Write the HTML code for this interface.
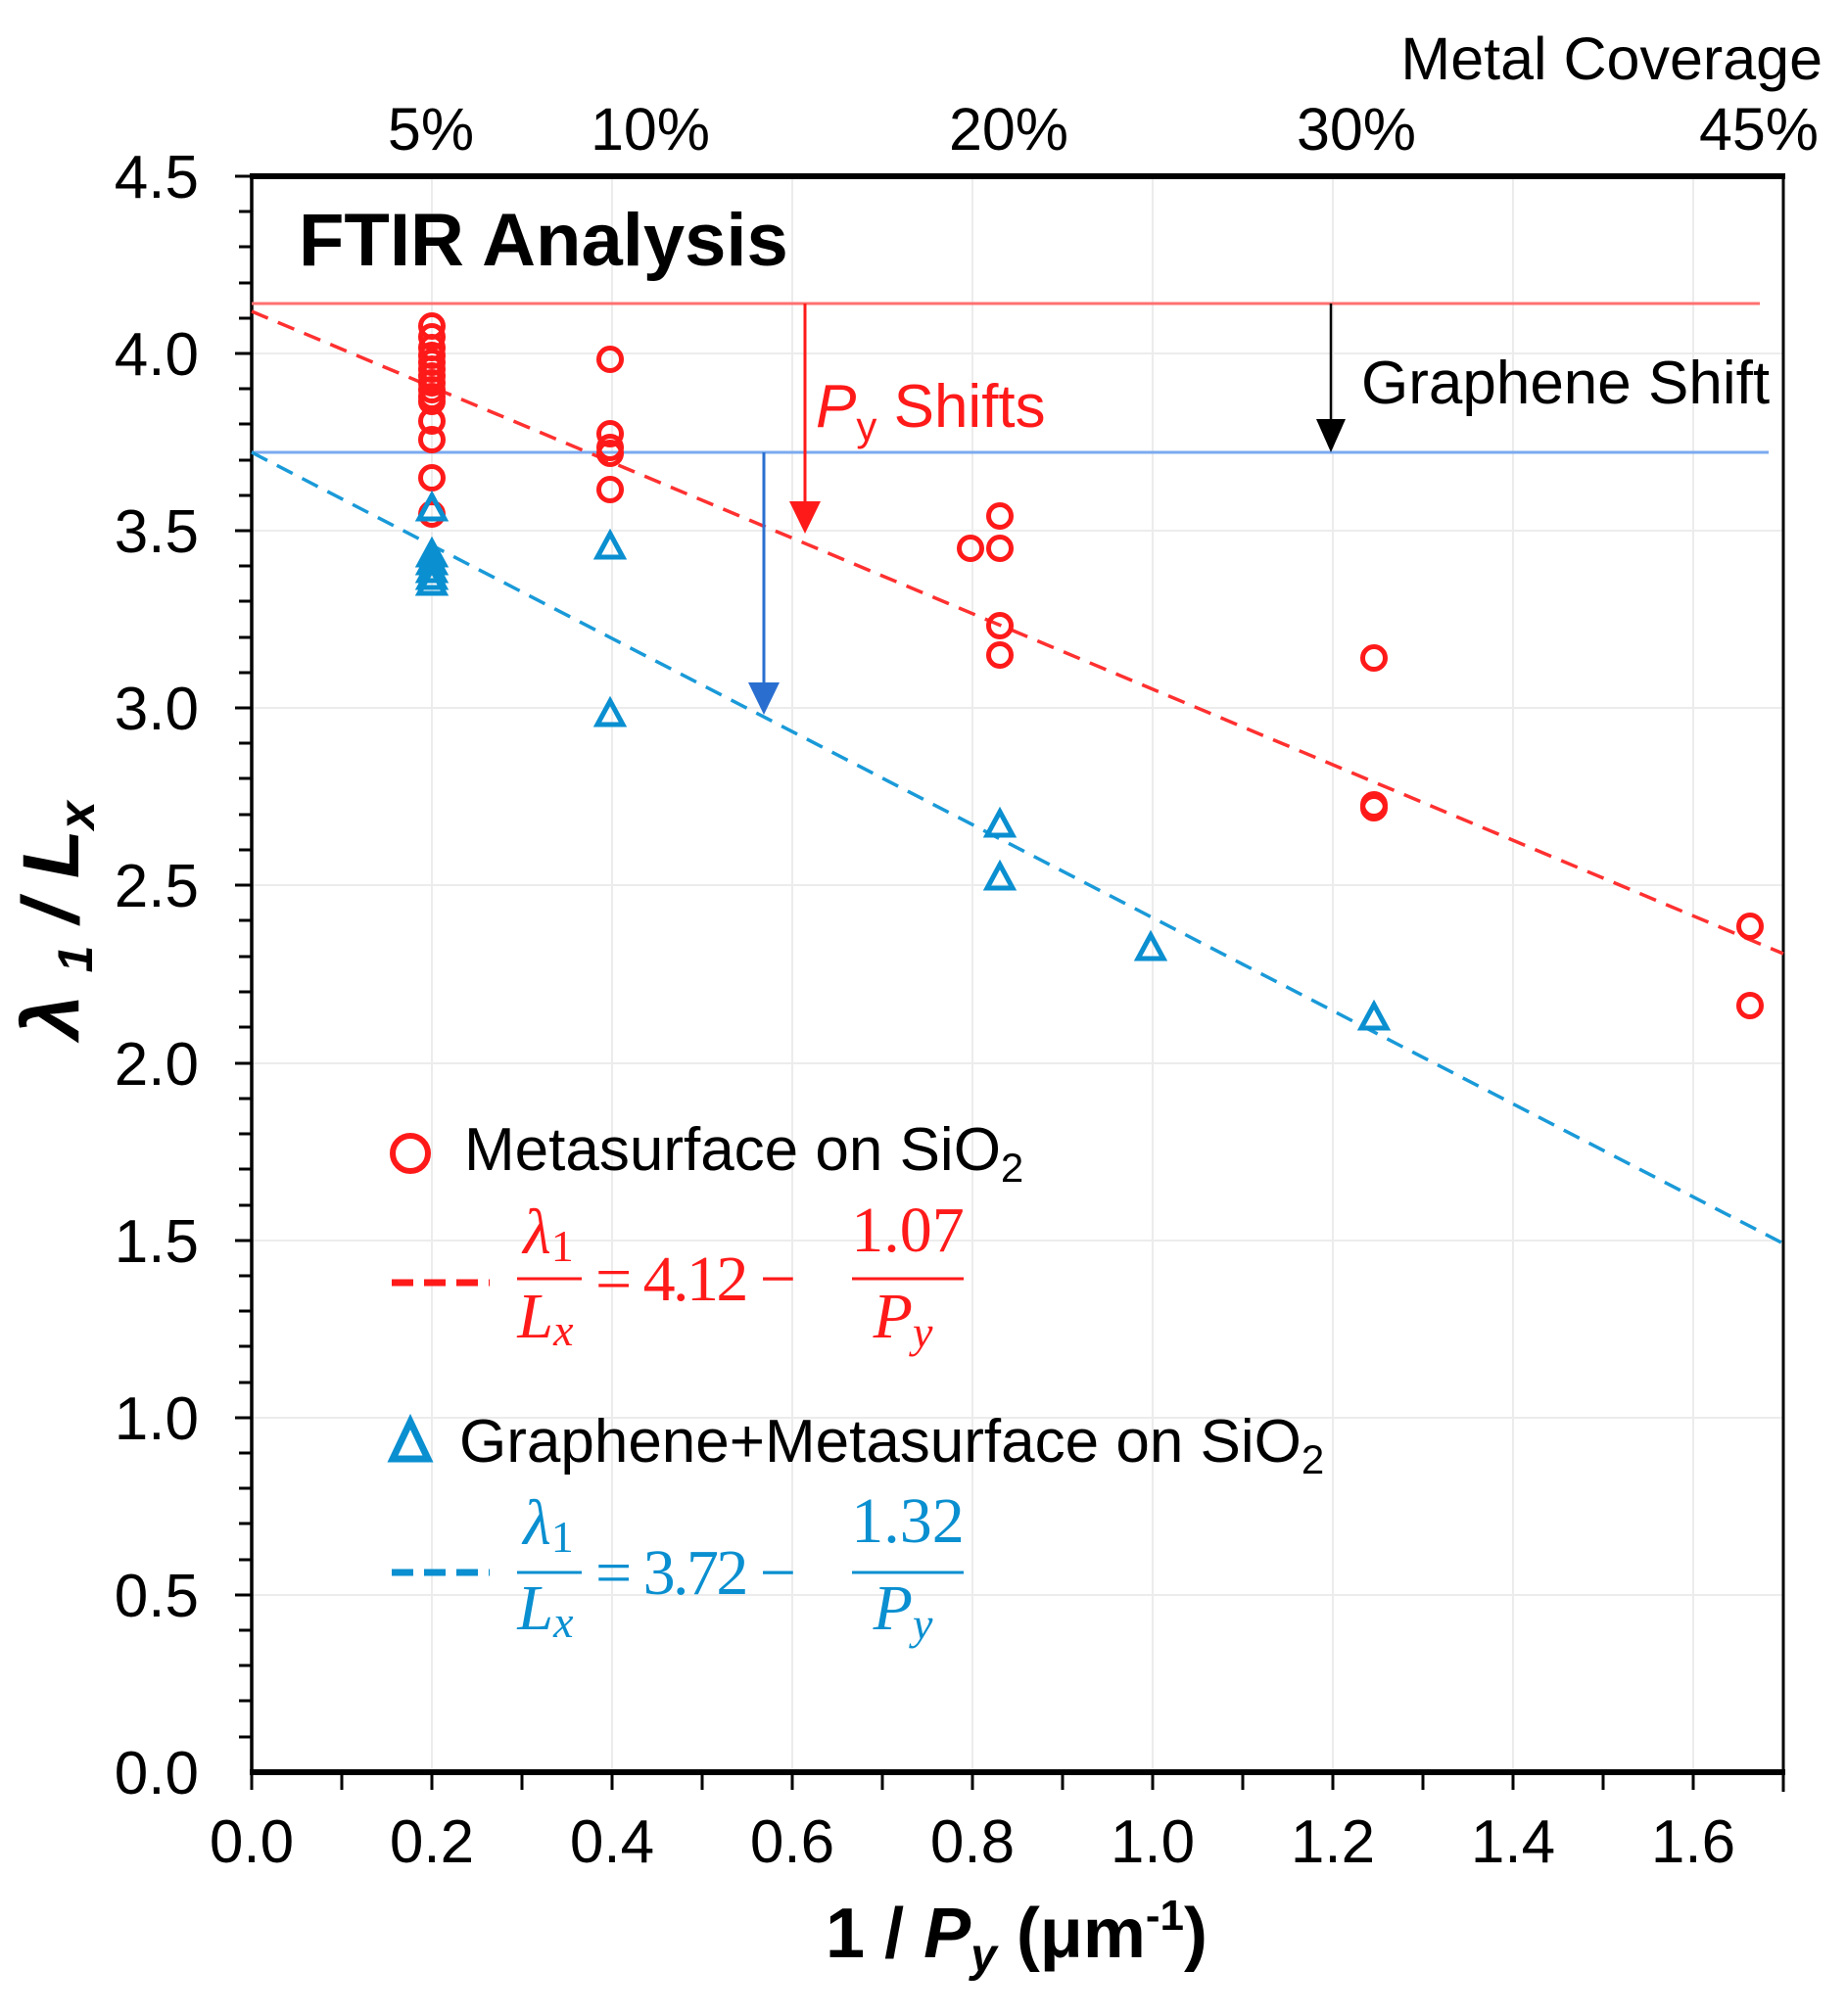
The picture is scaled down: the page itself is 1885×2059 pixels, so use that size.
<!DOCTYPE html>
<html><head><meta charset="utf-8"><style>html,body{margin:0;padding:0;background:#fff}svg{display:block}</style></head>
<body>
<svg xmlns="http://www.w3.org/2000/svg" width="1885" height="2059" viewBox="0 0 1885 2059" font-family="Liberation Sans, Arial, sans-serif">
<defs>
<g id="c"><circle r="11.5" fill="none" stroke="#ff1a1a" stroke-width="5"/></g>
<g id="t"><path d="M0,-14 L13,10 L-13,10 Z" fill="none" stroke="#0a8fd0" stroke-width="5" stroke-linejoin="miter"/></g>
</defs>
<!-- grid -->
<g stroke="#ececec" stroke-width="2">
<line x1="441" y1="182" x2="441" y2="1810"/><line x1="625" y1="182" x2="625" y2="1810"/><line x1="809" y1="182" x2="809" y2="1810"/><line x1="993" y1="182" x2="993" y2="1810"/><line x1="1177" y1="182" x2="1177" y2="1810"/><line x1="1361" y1="182" x2="1361" y2="1810"/><line x1="1545" y1="182" x2="1545" y2="1810"/><line x1="1729" y1="182" x2="1729" y2="1810"/>
<line x1="257" y1="361" x2="1821" y2="361"/><line x1="257" y1="542" x2="1821" y2="542"/><line x1="257" y1="723" x2="1821" y2="723"/><line x1="257" y1="904" x2="1821" y2="904"/><line x1="257" y1="1086" x2="1821" y2="1086"/><line x1="257" y1="1267" x2="1821" y2="1267"/><line x1="257" y1="1448" x2="1821" y2="1448"/><line x1="257" y1="1629" x2="1821" y2="1629"/>
</g>
<!-- axes frame -->
<line x1="255" y1="180" x2="1823" y2="180" stroke="#000" stroke-width="6"/>
<line x1="255" y1="1810" x2="1823" y2="1810" stroke="#000" stroke-width="6"/>
<line x1="257" y1="178" x2="257" y2="1812" stroke="#000" stroke-width="3.5"/>
<line x1="1821" y1="178" x2="1821" y2="1830" stroke="#000" stroke-width="3"/>
<!-- y ticks -->
<g stroke="#000" stroke-width="3">
<line x1="240" y1="180" x2="257" y2="180"/><line x1="244" y1="216" x2="257" y2="216"/><line x1="244" y1="252" x2="257" y2="252"/><line x1="244" y1="289" x2="257" y2="289"/><line x1="244" y1="325" x2="257" y2="325"/>
<line x1="240" y1="361" x2="257" y2="361"/><line x1="244" y1="397" x2="257" y2="397"/><line x1="244" y1="433" x2="257" y2="433"/><line x1="244" y1="470" x2="257" y2="470"/><line x1="244" y1="506" x2="257" y2="506"/>
<line x1="240" y1="542" x2="257" y2="542"/><line x1="244" y1="578" x2="257" y2="578"/><line x1="244" y1="614" x2="257" y2="614"/><line x1="244" y1="651" x2="257" y2="651"/><line x1="244" y1="687" x2="257" y2="687"/>
<line x1="240" y1="723" x2="257" y2="723"/><line x1="244" y1="759" x2="257" y2="759"/><line x1="244" y1="795" x2="257" y2="795"/><line x1="244" y1="832" x2="257" y2="832"/><line x1="244" y1="868" x2="257" y2="868"/>
<line x1="240" y1="904" x2="257" y2="904"/><line x1="244" y1="940" x2="257" y2="940"/><line x1="244" y1="977" x2="257" y2="977"/><line x1="244" y1="1013" x2="257" y2="1013"/><line x1="244" y1="1049" x2="257" y2="1049"/>
<line x1="240" y1="1086" x2="257" y2="1086"/><line x1="244" y1="1122" x2="257" y2="1122"/><line x1="244" y1="1158" x2="257" y2="1158"/><line x1="244" y1="1194" x2="257" y2="1194"/><line x1="244" y1="1231" x2="257" y2="1231"/>
<line x1="240" y1="1267" x2="257" y2="1267"/><line x1="244" y1="1303" x2="257" y2="1303"/><line x1="244" y1="1339" x2="257" y2="1339"/><line x1="244" y1="1375" x2="257" y2="1375"/><line x1="244" y1="1412" x2="257" y2="1412"/>
<line x1="240" y1="1448" x2="257" y2="1448"/><line x1="244" y1="1484" x2="257" y2="1484"/><line x1="244" y1="1520" x2="257" y2="1520"/><line x1="244" y1="1556" x2="257" y2="1556"/><line x1="244" y1="1593" x2="257" y2="1593"/>
<line x1="240" y1="1629" x2="257" y2="1629"/><line x1="244" y1="1665" x2="257" y2="1665"/><line x1="244" y1="1701" x2="257" y2="1701"/><line x1="244" y1="1737" x2="257" y2="1737"/><line x1="244" y1="1774" x2="257" y2="1774"/>
</g>
<!-- x ticks -->
<g stroke="#000" stroke-width="3">
<line x1="257" y1="1810" x2="257" y2="1828"/><line x1="349" y1="1810" x2="349" y2="1828"/><line x1="441" y1="1810" x2="441" y2="1828"/><line x1="533" y1="1810" x2="533" y2="1828"/><line x1="625" y1="1810" x2="625" y2="1828"/><line x1="717" y1="1810" x2="717" y2="1828"/><line x1="809" y1="1810" x2="809" y2="1828"/><line x1="901" y1="1810" x2="901" y2="1828"/><line x1="993" y1="1810" x2="993" y2="1828"/><line x1="1085" y1="1810" x2="1085" y2="1828"/><line x1="1177" y1="1810" x2="1177" y2="1828"/><line x1="1269" y1="1810" x2="1269" y2="1828"/><line x1="1361" y1="1810" x2="1361" y2="1828"/><line x1="1453" y1="1810" x2="1453" y2="1828"/><line x1="1545" y1="1810" x2="1545" y2="1828"/><line x1="1637" y1="1810" x2="1637" y2="1828"/><line x1="1729" y1="1810" x2="1729" y2="1828"/>
</g>
<!-- y tick labels -->
<g font-size="62" text-anchor="end" fill="#000">
<text x="203" y="202">4.5</text><text x="203" y="383">4.0</text><text x="203" y="564">3.5</text><text x="203" y="745">3.0</text><text x="203" y="926">2.5</text><text x="203" y="1108">2.0</text><text x="203" y="1289">1.5</text><text x="203" y="1470">1.0</text><text x="203" y="1651">0.5</text><text x="203" y="1832">0.0</text>
</g>
<!-- x tick labels -->
<g font-size="62" text-anchor="middle" fill="#000">
<text x="257" y="1902">0.0</text><text x="441" y="1902">0.2</text><text x="625" y="1902">0.4</text><text x="809" y="1902">0.6</text><text x="993" y="1902">0.8</text><text x="1177" y="1902">1.0</text><text x="1361" y="1902">1.2</text><text x="1545" y="1902">1.4</text><text x="1729" y="1902">1.6</text>
</g>
<!-- top labels -->
<g font-size="61" fill="#000">
<text x="1861" y="81" text-anchor="end">Metal Coverage</text>
<g text-anchor="middle"><text x="440" y="153">5%</text><text x="664" y="153">10%</text><text x="1030" y="153">20%</text><text x="1385" y="153">30%</text><text x="1796" y="153">45%</text></g>
</g>
<!-- axis titles -->
<text x="1038" y="1999" font-size="72" font-weight="bold" text-anchor="middle">1 / <tspan font-style="italic">P</tspan><tspan font-style="italic" font-size="48" dy="14">y</tspan><tspan dy="-14"> (μm</tspan><tspan font-size="44" dy="-28">-1</tspan><tspan dy="28">)</tspan></text>
<text transform="translate(80,940) rotate(-90)" font-size="82" font-weight="bold" text-anchor="middle" font-style="italic">λ <tspan font-size="50" dy="14">1</tspan><tspan dy="-14"> / L</tspan><tspan font-size="52" dy="16">x</tspan></text>
<!-- FTIR -->
<text x="305" y="271" font-size="76" font-weight="bold">FTIR Analysis</text>
<!-- reference lines -->
<line x1="257" y1="310" x2="1797" y2="310" stroke="#ff7070" stroke-width="3"/>
<line x1="257" y1="462" x2="1806" y2="462" stroke="#7aaaf0" stroke-width="3"/>
<line x1="257" y1="318" x2="1821" y2="974" stroke="#ff3030" stroke-width="3.5" stroke-dasharray="18,11"/>
<line x1="257" y1="462" x2="1821" y2="1270" stroke="#1a9ad8" stroke-width="3.5" stroke-dasharray="18,11"/>
<!-- arrows -->
<line x1="822" y1="310" x2="822" y2="515" stroke="#ff1a1a" stroke-width="3"/>
<path d="M806,512 L838,512 L822,545 Z" fill="#ff1a1a"/>
<line x1="780" y1="462" x2="780" y2="700" stroke="#2a6fd0" stroke-width="3"/>
<path d="M764,697 L796,697 L780,730 Z" fill="#2a6fd0"/>
<line x1="1359" y1="310" x2="1359" y2="432" stroke="#000" stroke-width="2.5"/>
<path d="M1344,428 L1374,428 L1359,462 Z" fill="#000"/>
<text x="833" y="436" font-size="62" fill="#ff1a1a"><tspan font-style="italic">P</tspan><tspan font-size="42" dy="14">y</tspan><tspan dy="-14"> Shifts</tspan></text>
<text x="1390" y="412" font-size="62" fill="#000">Graphene Shift</text>
<!-- red data -->
<g>
<use href="#c" x="441" y="333"/><use href="#c" x="441" y="344"/><use href="#c" x="441" y="355"/><use href="#c" x="441" y="363"/><use href="#c" x="441" y="370"/><use href="#c" x="441" y="377"/><use href="#c" x="441" y="384"/><use href="#c" x="441" y="391"/><use href="#c" x="441" y="398"/><use href="#c" x="441" y="405"/><use href="#c" x="441" y="410"/>
<use href="#c" x="441" y="430"/><use href="#c" x="441" y="449"/><use href="#c" x="441" y="488"/><use href="#c" x="441" y="525"/>
<use href="#c" x="623" y="367"/><use href="#c" x="623" y="443"/><use href="#c" x="623" y="457"/><use href="#c" x="623" y="463"/><use href="#c" x="623" y="500"/>
<use href="#c" x="991" y="560"/><use href="#c" x="1021" y="527"/><use href="#c" x="1021" y="560"/><use href="#c" x="1021" y="639"/><use href="#c" x="1021" y="669"/>
<use href="#c" x="1403" y="672"/><use href="#c" x="1403" y="822"/><use href="#c" x="1403" y="825"/>
<use href="#c" x="1787" y="946"/><use href="#c" x="1787" y="1027"/>
</g>
<!-- blue data -->
<g>
<use href="#t" x="441" y="520"/><use href="#t" x="441" y="567"/><use href="#t" x="441" y="575"/><use href="#t" x="441" y="583"/><use href="#t" x="441" y="590"/><use href="#t" x="441" y="596"/>
<use href="#t" x="623" y="559"/><use href="#t" x="623" y="730"/>
<use href="#t" x="1021" y="843"/><use href="#t" x="1021" y="897"/>
<use href="#t" x="1175" y="969"/><use href="#t" x="1403" y="1040"/>
</g>
<!-- legend -->
<circle cx="419" cy="1178" r="18" fill="none" stroke="#ff1a1a" stroke-width="6"/>
<text x="474" y="1195" font-size="62" fill="#000">Metasurface on SiO<tspan font-size="42" dy="12">2</tspan></text>
<line x1="400" y1="1310" x2="500" y2="1310" stroke="#ff1a1a" stroke-width="7" stroke-dasharray="22,11"/>
<g fill="#ff1a1a" font-family="Liberation Serif, serif" font-size="66">
<text x="560" y="1280" text-anchor="middle" font-style="italic">λ<tspan font-style="normal" font-size="46" dy="8">1</tspan></text>
<line x1="528" y1="1306" x2="594" y2="1306" stroke="#ff1a1a" stroke-width="3"/>
<text x="557" y="1366" text-anchor="middle" font-style="italic">L<tspan font-size="46" dy="8">x</tspan></text>
<text x="608" y="1328" textLength="205">= 4.12 −</text>
<text x="927" y="1278" text-anchor="middle">1.07</text>
<line x1="870" y1="1306" x2="984" y2="1306" stroke="#ff1a1a" stroke-width="3"/>
<text x="922" y="1366" text-anchor="middle" font-style="italic">P<tspan font-size="46" dy="10">y</tspan></text>
</g>
<path d="M419,1452 L437,1490 L401,1490 Z" fill="none" stroke="#0a8fd0" stroke-width="7"/>
<text x="469" y="1493" font-size="62" fill="#000">Graphene+Metasurface on SiO<tspan font-size="42" dy="12">2</tspan></text>
<line x1="400" y1="1606" x2="500" y2="1606" stroke="#0a8fd0" stroke-width="7" stroke-dasharray="22,11"/>
<g fill="#0a8fd0" font-family="Liberation Serif, serif" font-size="66">
<text x="560" y="1577" text-anchor="middle" font-style="italic">λ<tspan font-style="normal" font-size="46" dy="8">1</tspan></text>
<line x1="528" y1="1606" x2="594" y2="1606" stroke="#0a8fd0" stroke-width="3"/>
<text x="557" y="1664" text-anchor="middle" font-style="italic">L<tspan font-size="46" dy="8">x</tspan></text>
<text x="608" y="1628" textLength="205">= 3.72 −</text>
<text x="927" y="1575" text-anchor="middle">1.32</text>
<line x1="870" y1="1606" x2="984" y2="1606" stroke="#0a8fd0" stroke-width="3"/>
<text x="922" y="1664" text-anchor="middle" font-style="italic">P<tspan font-size="46" dy="10">y</tspan></text>
</g>
</svg>
</body></html>
